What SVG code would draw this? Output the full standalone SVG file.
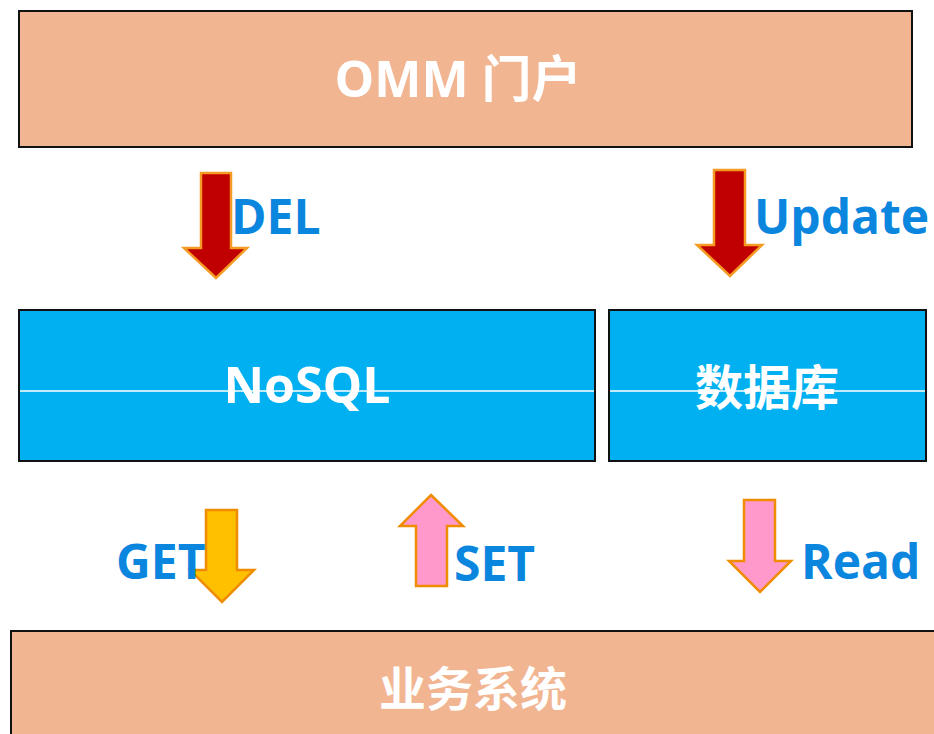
<svg xmlns="http://www.w3.org/2000/svg" width="934" height="734" viewBox="0 0 934 734">
<style>
.box{stroke:#111;stroke-width:2}
.peach{fill:#F2B592}
.blue{fill:#00B0F0}
.t{font-family:"Open Sans","Noto Sans CJK SC",sans-serif;font-weight:bold;fill:#fff;text-anchor:middle}
.lbl{font-family:"Open Sans","Noto Sans CJK SC",sans-serif;font-weight:bold;fill:#0B86DE;font-size:48px}
.red{fill:#C00000;stroke:#F59A23;stroke-width:2.5}
.yel{fill:#FFC000;stroke:#F08C00;stroke-width:2.5}
.pink{fill:#FF99CC;stroke:#F08C00;stroke-width:2.5}
.hl{stroke:#fff;stroke-width:1.3}
</style>
<rect width="934" height="734" fill="#fff"/>
<g id="omm">
<rect class="box peach" x="19" y="11" width="893" height="136"/>
<text class="t" x="458" y="97" font-size="50">OMM 门户</text>
</g>
<g id="nosql">
<rect class="box blue" x="19" y="310" width="576" height="151"/>
<line class="hl" x1="20" y1="391" x2="594" y2="391"/>
<text class="t" x="307" y="403" font-size="50">NoSQL</text>
</g>
<g id="db">
<rect class="box blue" x="609" y="310" width="317" height="151"/>
<line class="hl" x1="610" y1="391" x2="925" y2="391"/>
<text class="t" x="767" y="405" font-size="48">数据库</text>
</g>
<g id="biz">
<rect class="box peach" x="11" y="631" width="930" height="110"/>
<text class="t" x="473" y="706" font-size="47">业务系统</text>
</g>
<g id="connectors">
<polygon class="red" points="201,173 231,173 231,248 247,248 216,278 184,248 201,248"/>
<text class="lbl" x="231" y="234">DEL</text>
<polygon class="red" points="714,170 745,170 745,245 762,245 730,276 697,245 714,245"/>
<text class="lbl" x="754" y="234">Update</text>
<polygon class="yel" points="206,510 237,510 237,570 254,570 222,602 190,570 206,570"/>
<text class="lbl" x="116" y="579">GET</text>
<polygon class="pink" points="431,495 463,526 447,526 447,586 416,586 416,526 400,526"/>
<text class="lbl" x="454" y="581">SET</text>
<polygon class="pink" points="744,500 775,500 775,561 791,561 760,592 729,561 744,561"/>
<text class="lbl" x="801" y="579">Read</text>
</g>
</svg>
